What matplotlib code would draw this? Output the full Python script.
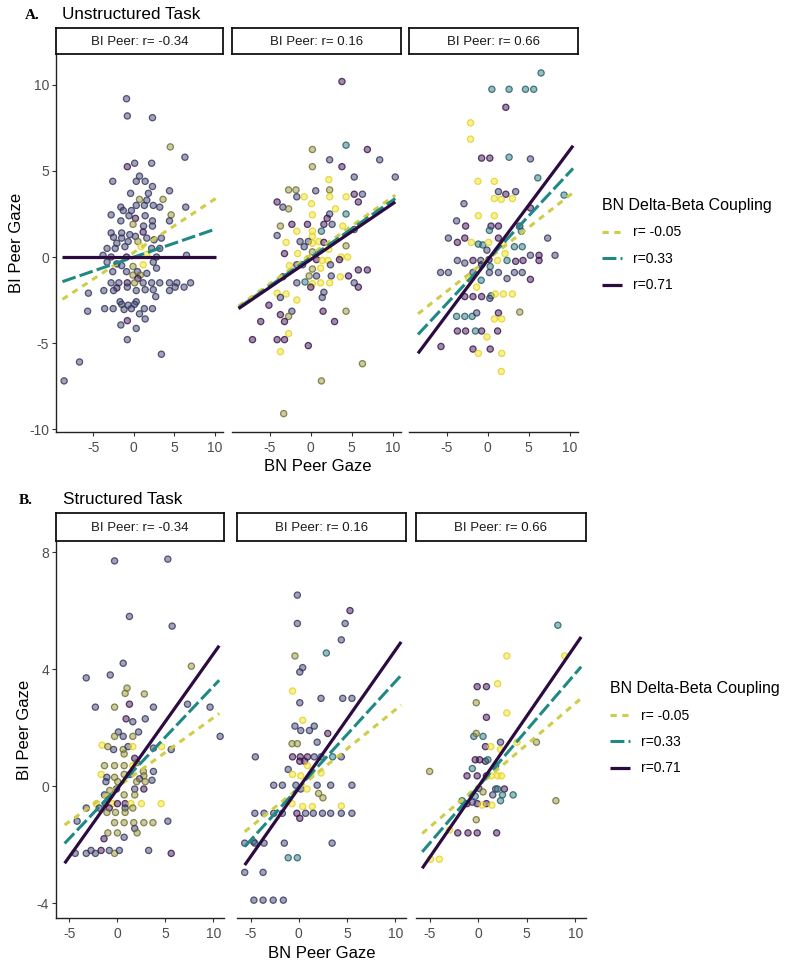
import matplotlib
matplotlib.use('Agg')
import matplotlib.pyplot as plt
from matplotlib.colors import to_rgba

plt.rcParams['font.family'] = ['Liberation Sans', 'DejaVu Sans']
plt.rcParams['lines.scale_dashes'] = False
plt.rcParams['axes.unicode_minus'] = False

# ---------------- data ----------------
facet_labels = ['BI Peer: r= -0.34', 'BI Peer: r= 0.16', 'BI Peer: r= 0.66']
legend_title = 'BN Delta-Beta Coupling'
legend_labels = ['r= -0.05', 'r=0.33', 'r=0.71']
panel_titles = [('A.', 'Unstructured Task'), ('B.', 'Structured Task')]
x_label = 'BN Peer Gaze'
y_label = 'BI Peer Gaze'

# point colour groups (coupling level, low -> high)
palette = {'p': '#46185F', 'b': '#45477A', 't': '#2E7E86', 'o': '#9A9840', 'y': '#F5E326'}

A1 = [(-0.9,9.2,'b'),(-0.8,8.2,'b'),(2.3,8.1,'b'),(4.5,6.4,'o'),(6.3,5.8,'b'),(-0.8,5.25,'p'),(0.1,5.45,'b'),
      (2.2,5.45,'b'),(-2.6,4.4,'b'),(0.7,4.7,'b'),(0.3,4.4,'b'),(1.4,4.4,'b'),(2.3,4.1,'b'),(-0.4,3.7,'b'),
      (1.8,3.7,'b'),(4.4,3.85,'b'),(0.7,3.35,'o'),(3.6,3.35,'o'),(1.6,3.3,'b'),(0.3,3.0,'b'),(1.3,3.0,'b'),
      (2.4,3.0,'b'),(3.2,2.9,'b'),(6.4,2.9,'b'),(-1.6,2.9,'b'),(-1.3,2.7,'b'),(-0.3,2.7,'b'),(-2.8,2.45,'b'),
      (-0.6,2.4,'b'),(1.4,2.4,'b'),(4.6,2.45,'o'),(0.2,2.25,'p'),(-1.6,2.1,'b'),(2.3,2.1,'b'),(4.4,2.1,'b'),
      (2.3,1.8,'b'),(1.2,1.8,'b'),(-0.1,1.9,'o'),(-2.8,1.4,'b'),(-1.5,1.4,'b'),(-0.5,1.3,'b'),(1.15,1.45,'p'),
      (0.2,1.2,'b'),(-2.5,1.15,'b'),(-1.5,1.1,'b'),(1.6,1.1,'b'),(3.4,1.1,'b'),(2.5,1.0,'b'),(-2.1,0.8,'b'),
      (-0.7,0.9,'b'),(0.5,0.9,'o'),(-3.3,0.5,'b'),(-2.3,0.5,'b'),(-1.1,0.6,'b'),(0.9,0.6,'y'),(2.2,0.5,'b'),
      (3.2,0.5,'b'),(-3.8,0.1,'b'),(6.5,0.1,'b'),(-2.8,0.0,'b'),(-0.9,0.0,'p'),(1.6,0.15,'y'),(2.8,0.0,'b'),
      (-3.3,-0.3,'b'),(-2.1,-0.4,'b'),(-1.5,-0.5,'b'),(-0.1,-0.55,'o'),(1.15,-0.45,'y'),(2.4,-0.3,'b'),
      (-2.6,-0.85,'b'),(-0.9,-0.85,'b'),(0.45,-0.85,'b'),(1.6,-0.95,'b'),(2.8,-0.65,'b'),(-0.1,-1.05,'o'),
      (0.8,-1.05,'o'),(0.5,-1.25,'p'),(-2.8,-1.5,'b'),(-1.85,-1.5,'b'),(-0.8,-1.5,'p'),(0.1,-1.5,'o'),
      (1.15,-1.5,'b'),(2.2,-1.5,'b'),(3.2,-1.5,'b'),(4.4,-1.5,'b'),(5.3,-1.5,'b'),(6.2,-1.75,'b'),(7.0,-1.5,'b'),
      (5.1,-1.75,'b'),(-2.1,-1.8,'p'),(-0.8,-1.75,'b'),(0.3,-1.95,'b'),(1.4,-1.9,'b'),(2.4,-1.9,'b'),
      (-3.7,-1.95,'b'),(-2.5,-1.95,'b'),(4.4,-1.95,'b'),(-5.6,-2.1,'b'),(2.7,-2.3,'b'),(-1.7,-2.6,'b'),
      (-1.5,-2.75,'b'),(0.3,-2.6,'b'),(0.1,-2.75,'b'),(-0.7,-2.8,'b'),(-1.2,-3.05,'b'),(-0.3,-3.0,'b'),
      (-3.6,-3.0,'b'),(-2.55,-3.0,'b'),(1.3,-3.0,'b'),(2.3,-3.0,'b'),(-5.7,-3.15,'b'),(0.7,-3.3,'b'),
      (1.4,-3.6,'b'),(-0.8,-3.7,'p'),(-1.6,-3.95,'b'),(0.3,-4.15,'b'),(-0.8,-4.8,'b'),(3.4,-5.65,'b'),
      (-6.7,-6.1,'b'),(-8.6,-7.2,'b')]

A2 = [(3.8,10.2,'p'),(0.2,6.25,'o'),(4.3,6.5,'t'),(6.9,6.25,'p'),(8.4,5.65,'b'),(2.3,5.65,'b'),(0.2,5.25,'o'),
      (3.8,5.25,'p'),(5.3,4.65,'b'),(10.3,4.65,'b'),(2.2,4.5,'y'),(-2.7,3.9,'o'),(-1.8,3.9,'o'),(-1.7,3.5,'b'),
      (-0.8,3.5,'y'),(0.6,3.85,'b'),(2.3,3.9,'o'),(2.3,3.5,'y'),(4.3,3.5,'y'),(5.3,3.65,'p'),(6.3,3.65,'b'),
      (5.8,3.2,'p'),(-4.1,3.2,'p'),(-3.4,2.9,'b'),(-2.7,2.8,'o'),(0.1,3.1,'y'),(0.2,2.45,'y'),(2.3,2.5,'b'),
      (3.0,2.8,'y'),(4.3,2.5,'t'),(2.0,2.25,'p'),(-3.7,1.8,'o'),(-2.3,1.9,'p'),(-0.4,1.9,'p'),(1.6,1.9,'p'),
      (2.6,1.9,'b'),(3.9,1.8,'y'),(5.3,1.6,'b'),(-1.7,1.5,'y'),(0.2,1.5,'y'),(1.3,1.5,'t'),(-4.1,1.25,'b'),
      (0.2,1.2,'y'),(-3.0,0.85,'y'),(-1.3,0.9,'b'),(-0.3,0.9,'b'),(1.0,0.9,'y'),(1.6,0.85,'p'),(-0.8,0.6,'b'),
      (0.2,0.8,'y'),(4.3,0.65,'o'),(-3.2,0.2,'p'),(-1.6,0.2,'y'),(0.2,0.3,'o'),(2.2,0.45,'y'),(3.7,0.0,'y'),
      (4.5,0.0,'y'),(-0.4,-0.1,'y'),(0.7,-0.15,'p'),(1.4,-0.2,'y'),(2.1,-0.2,'y'),(3.5,-0.15,'p'),
      (-2.6,-0.5,'y'),(-1.7,-0.45,'b'),(-1.0,-0.45,'b'),(0.2,-0.7,'o'),(2.4,-0.45,'b'),(1.2,-0.65,'y'),
      (5.8,-0.75,'p'),(6.9,-0.75,'p'),(-3.4,-1.15,'b'),(-0.2,-1.1,'o'),(0.7,-1.1,'b'),(2.5,-1.1,'b'),
      (3.6,-1.15,'y'),(4.6,-1.1,'p'),(-1.7,-1.5,'b'),(-0.7,-1.45,'t'),(0.2,-1.55,'y'),(1.2,-1.5,'y'),
      (2.3,-1.5,'y'),(5.3,-1.5,'b'),(0.0,-1.75,'p'),(5.8,-1.75,'p'),(1.6,-2.05,'b'),(-4.1,-2.1,'y'),
      (-3.0,-2.15,'y'),(-3.7,-2.35,'b'),(1.4,-2.35,'b'),(-1.7,-2.5,'y'),(-5.1,-2.8,'p'),(1.5,-3.15,'p'),
      (4.3,-3.15,'o'),(-2.3,-3.15,'b'),(-3.7,-3.35,'p'),(-2.7,-3.45,'o'),(-6.1,-3.75,'p'),(-3.2,-3.75,'p'),
      (2.9,-3.75,'p'),(-2.7,-4.45,'y'),(-7.1,-4.8,'p'),(-4.1,-4.8,'p'),(-3.2,-4.8,'p'),(-0.3,-5.15,'p'),
      (-3.7,-5.5,'y'),(6.3,-6.2,'o'),(1.3,-7.2,'o'),(-3.3,-9.1,'o')]

A3 = [(6.5,10.7,'t'),(0.5,9.75,'t'),(2.6,9.75,'t'),(4.6,9.75,'t'),(5.6,9.75,'t'),(2.2,8.7,'p'),(-2.1,7.8,'y'),
      (-2.1,6.85,'y'),(-0.75,5.75,'p'),(0.25,5.75,'p'),(2.6,5.8,'t'),(5.2,5.7,'b'),(6.1,4.6,'t'),(-1.2,4.4,'y'),
      (0.8,4.4,'y'),(1.3,3.8,'b'),(2.2,3.65,'p'),(3.4,3.8,'b'),(0.8,3.4,'y'),(1.65,3.35,'y'),(3.0,3.4,'y'),
      (9.3,3.6,'t'),(-2.9,3.1,'b'),(5.2,2.85,'p'),(-1.15,2.4,'y'),(0.8,2.4,'y'),(-3.8,2.1,'b'),(-2.7,1.8,'p'),
      (0.4,1.8,'p'),(1.3,1.8,'p'),(0.2,1.55,'t'),(3.9,1.8,'b'),(4.1,1.5,'t'),(-4.8,1.1,'b'),(-2.8,1.1,'p'),
      (-3.7,0.85,'p'),(1.3,1.1,'p'),(7.3,1.1,'b'),(-2.0,0.85,'y'),(-1.15,0.75,'t'),(-0.6,0.7,'t'),(0.1,0.85,'y'),
      (1.9,0.8,'y'),(3.25,0.6,'t'),(4.2,0.6,'t'),(-0.1,0.4,'b'),(2.1,0.2,'y'),(5.2,0.1,'b'),(6.25,0.1,'p'),
      (8.2,0.1,'b'),(-3.7,-0.2,'b'),(-2.8,-0.35,'b'),(-1.8,-0.2,'p'),(-0.85,-0.2,'b'),(0.15,-0.15,'p'),
      (1.2,-0.2,'y'),(2.35,-0.2,'t'),(3.4,-0.25,'p'),(4.3,-0.2,'p'),(6.25,-0.2,'p'),(-0.75,-0.45,'p'),
      (0.3,-0.55,'t'),(-5.75,-0.9,'b'),(-4.8,-0.9,'b'),(-1.8,-0.9,'b'),(0.2,-0.9,'b'),(1.3,-0.9,'b'),
      (3.25,-0.9,'b'),(4.2,-0.9,'b'),(2.35,-1.25,'b'),(5.2,-1.3,'p'),(-2.3,-1.25,'y'),(-0.8,-1.35,'t'),
      (-1.36,-1.75,'y'),(-2.8,-2.3,'p'),(-1.8,-2.3,'p'),(-0.75,-2.3,'p'),(0.4,-2.25,'t'),(0.25,-2.4,'b'),
      (0.9,-2.15,'y'),(1.9,-2.15,'y'),(3.0,-2.15,'y'),(-3.8,-3.45,'t'),(-2.8,-3.45,'t'),(-1.9,-3.45,'t'),
      (-1.35,-3.25,'b'),(1.3,-3.25,'p'),(0.8,-3.6,'y'),(1.7,-3.6,'y'),(3.9,-3.2,'o'),(-3.7,-4.3,'p'),
      (-2.7,-4.3,'p'),(-1.5,-4.3,'t'),(-0.75,-4.3,'p'),(1.2,-4.3,'p'),(-0.1,-4.65,'y'),(-5.7,-5.2,'p'),
      (-1.8,-5.35,'p'),(0.3,-5.35,'p'),(-1.15,-5.6,'y'),(1.7,-5.6,'y'),(1.65,-6.65,'y')]

B1 = [(-0.3,7.7,'b'),(5.25,7.76,'b'),(1.25,5.8,'b'),(5.7,5.47,'b'),(0.6,4.2,'b'),(-0.75,3.8,'b'),(-3.25,3.7,'b'),
      (7.7,4.1,'o'),(1.0,3.35,'o'),(2.8,3.15,'o'),(0.8,3.17,'o'),(-2.3,2.7,'b'),(-0.3,2.7,'o'),(1.25,2.8,'p'),
      (3.75,2.7,'b'),(7.3,2.8,'b'),(9.65,2.7,'b'),(10.7,1.7,'b'),(0.9,2.3,'p'),(1.6,2.2,'b'),(2.9,2.3,'b'),
      (0.1,1.85,'b'),(0.6,1.7,'b'),(-0.3,1.7,'o'),(2.2,1.85,'b'),(1.6,1.7,'o'),(-1.6,1.4,'y'),(-1.0,1.35,'o'),
      (-0.4,1.25,'b'),(0.6,1.25,'o'),(1.1,1.35,'b'),(1.6,1.35,'y'),(3.75,1.3,'b'),(4.6,1.35,'y'),(5.6,1.25,'b'),
      (0.7,1.1,'o'),(1.8,0.95,'p'),(2.0,0.8,'o'),(-1.35,0.7,'o'),(-0.3,0.7,'o'),(0.7,0.7,'o'),(1.6,0.7,'y'),
      (3.75,0.5,'b'),(2.7,0.5,'o'),(-1.7,0.4,'y'),(-1.1,0.3,'b'),(-0.3,0.3,'o'),(0.7,0.4,'o'),(1.3,0.4,'b'),
      (2.75,0.35,'o'),(2.3,0.25,'b'),(3.6,0.2,'b'),(-1.2,0.15,'b'),(0.03,0.15,'o'),(2.0,0.15,'o'),(2.9,0.15,'o'),
      (-0.8,-0.15,'o'),(-0.1,-0.1,'p'),(1.8,-0.1,'b'),(2.75,-0.1,'p'),(-1.35,-0.3,'b'),(0.7,-0.3,'o'),
      (1.8,-0.3,'o'),(-2.2,-0.6,'y'),(-1.25,-0.6,'b'),(-0.5,-0.6,'y'),(0.0,-0.6,'p'),(0.8,-0.6,'p'),
      (1.4,-0.6,'y'),(2.5,-0.6,'y'),(4.55,-0.6,'y'),(-3.25,-0.75,'b'),(-1.9,-0.75,'b'),(-0.85,-0.75,'p'),
      (0.8,-0.75,'b'),(1.6,-0.75,'o'),(-1.1,-0.9,'o'),(-0.2,-0.9,'o'),(0.8,-0.9,'o'),(-4.2,-1.2,'b'),
      (-0.3,-1.25,'o'),(0.7,-1.25,'o'),(1.7,-1.25,'o'),(2.75,-1.25,'o'),(3.7,-1.25,'o'),(5.25,-1.2,'b'),
      (1.8,-1.45,'b'),(-1.0,-1.6,'o'),(0.0,-1.6,'o'),(2.05,-1.6,'o'),(-1.4,-1.8,'p'),(0.7,-1.75,'b'),
      (-4.4,-2.3,'b'),(-3.25,-2.3,'b'),(-2.3,-2.3,'b'),(-2.75,-2.2,'b'),(-1.7,-2.2,'p'),(-0.85,-2.2,'b'),
      (-0.3,-2.3,'o'),(0.2,-2.2,'b'),(3.25,-2.2,'b'),(5.6,-2.3,'p')]

B2 = [(-0.15,6.53,'b'),(5.3,6.0,'p'),(-0.15,5.56,'b'),(4.8,5.56,'b'),(4.4,5.0,'b'),(-0.4,4.45,'o'),(2.85,4.55,'t'),
      (0.4,4.05,'b'),(0.1,3.9,'b'),(-0.65,3.25,'y'),(2.3,3.0,'b'),(4.55,3.0,'b'),(5.5,3.0,'b'),(0.1,2.85,'b'),
      (0.4,2.25,'y'),(-0.4,2.05,'b'),(0.2,1.9,'b'),(1.1,1.9,'b'),(1.6,2.05,'b'),(3.0,1.8,'p'),(-0.7,1.45,'o'),
      (-0.15,1.45,'o'),(1.9,1.5,'b'),(-4.5,1.0,'b'),(-0.65,1.0,'p'),(0.15,1.0,'p'),(0.9,1.0,'p'),(1.6,1.0,'b'),
      (2.3,1.0,'t'),(3.5,1.0,'t'),(4.4,1.0,'b'),(0.1,0.85,'p'),(0.6,0.85,'p'),(0.9,0.7,'y'),(-1.1,0.57,'b'),
      (-0.65,0.4,'y'),(0.2,0.35,'y'),(1.25,0.4,'y'),(2.3,0.45,'y'),(-2.6,0.03,'b'),(-1.7,0.03,'b'),
      (-0.3,0.03,'b'),(0.2,-0.1,'b'),(0.85,-0.1,'y'),(1.9,0.03,'b'),(3.3,0.03,'b'),(5.5,0.03,'b'),
      (2.05,-0.25,'o'),(2.5,-0.4,'o'),(-0.7,-0.6,'y'),(0.4,-0.7,'y'),(1.4,-0.7,'y'),(4.4,-0.68,'y'),
      (-4.55,-0.93,'b'),(-3.6,-0.93,'b'),(-2.6,-0.93,'b'),(-1.7,-0.93,'b'),(-0.2,-0.93,'p'),(0.7,-0.93,'b'),
      (1.5,-0.93,'b'),(2.45,-0.93,'b'),(3.3,-0.93,'b'),(4.4,-0.93,'b'),(5.5,-0.93,'b'),(0.1,-1.1,'p'),
      (-5.6,-1.95,'b'),(-4.7,-1.9,'t'),(-4.55,-1.95,'b'),(-3.6,-1.95,'b'),(-1.5,-1.95,'b'),(3.45,-1.95,'b'),
      (-1.1,-2.45,'t'),(-0.15,-2.45,'t'),(-5.6,-2.95,'b'),(-3.7,-2.95,'b'),(-4.65,-3.9,'b'),(-3.7,-3.9,'b'),
      (-2.65,-3.9,'b'),(-1.6,-3.9,'b')]

B3 = [(8.2,5.5,'t'),(2.95,4.45,'y'),(8.9,4.45,'y'),(2.0,3.5,'y'),(-0.1,3.4,'p'),(0.85,3.4,'p'),(-0.2,2.85,'o'),
      (0.85,2.35,'p'),(2.95,2.5,'y'),(-0.45,1.7,'t'),(-0.2,1.8,'o'),(0.5,1.7,'t'),(2.3,1.5,'b'),(4.0,1.5,'y'),
      (6.0,1.5,'o'),(0.75,1.35,'p'),(1.3,1.35,'y'),(2.3,1.25,'y'),(-0.3,0.9,'p'),(0.15,0.9,'p'),(0.75,0.85,'p'),
      (1.0,0.9,'t'),(-0.6,0.6,'t'),(1.8,0.7,'t'),(-5.0,0.5,'o'),(-1.15,0.35,'p'),(-0.1,0.35,'p'),(0.85,0.35,'p'),
      (1.35,0.35,'y'),(2.0,0.35,'y'),(2.4,0.35,'y'),(0.07,-0.08,'b'),(0.5,-0.2,'o'),(1.8,-0.1,'b'),
      (2.7,-0.1,'p'),(2.0,-0.1,'t'),(2.5,-0.3,'t'),(3.6,-0.3,'t'),(1.5,-0.3,'b'),(-0.3,-0.35,'t'),
      (-1.65,-0.5,'t'),(2.3,-0.5,'t'),(8.0,-0.5,'o'),(-1.15,-0.6,'p'),(-0.1,-0.6,'p'),(0.85,-0.6,'p'),
      (0.4,-0.65,'y'),(1.4,-0.65,'y'),(-0.6,-0.55,'b'),(-0.2,-1.15,'o'),(-2.1,-1.6,'p'),(-1.05,-1.6,'p'),
      (-0.1,-1.6,'p'),(1.9,-1.6,'p'),(-2.95,-1.5,'y'),(-4.9,-2.5,'y'),(-4.0,-2.5,'y')]

# fitted lines per facet: (x_start, y_start, x_end, y_end) for r=-0.05, r=0.33, r=0.71
A_lines = [[(-8.8, -2.46, 10.1, 3.40), (-8.8, -1.43, 10.1, 1.63), (-8.8, 0.00, 10.1, 0.00)],
           [(-8.8, -2.85, 10.3, 3.60), (-8.8, -2.95, 10.3, 3.40), (-8.8, -3.00, 10.3, 3.20)],
           [(-8.5, -3.30, 10.4, 3.74), (-8.5, -4.50, 10.4, 5.15), (-8.5, -5.60, 10.4, 6.47)]]
B_lines = [[(-5.5, -1.33, 10.6, 2.48), (-5.5, -1.96, 10.6, 3.62), (-5.5, -2.64, 10.6, 4.80)],
           [(-5.6, -1.56, 10.6, 2.77), (-5.6, -2.07, 10.6, 3.79), (-5.6, -2.70, 10.6, 4.93)],
           [(-5.76, -1.62, 10.6, 3.00), (-5.76, -2.25, 10.6, 4.08), (-5.76, -2.81, 10.6, 5.10)]]

A_xticks = [-5, 0, 5, 10]
A_yticks = [-10, -5, 0, 5, 10]
B_xticks = [-5, 0, 5, 10]
B_yticks = [-4, 0, 4, 8]

# ---------------- style ----------------
W, H = 800, 964
fig = plt.figure(figsize=(W / 100, H / 100), dpi=100)

line_colors = ['#CFCD48', '#1F8A84', '#2C0B40']
line_styles = [(0, (4.5, 4.0)), (0, (10.0, 3.0)), '-']
line_widths = [2.2, 2.2, 2.3]

def fx(px):
    return px / W

def fy(py):
    return 1 - py / H

def rect(x0, y0, x1, y1):
    return [fx(x0), fy(y1), (x1 - x0) / W, (y1 - y0) / H]

def darker(c, f):
    r, g, b, _ = to_rgba(c)
    return (r * f, g * f, b * f)

def draw_panel(points_list, lines_list, facet_x, top, bottom, strip_top, xlim, ylim, xticks, yticks):
    handles = []
    for i, (pts, lines) in enumerate(zip(points_list, lines_list)):
        x0, x1 = facet_x[i]
        ax = fig.add_axes(rect(x0, top, x1, bottom))
        xs = [p[0] for p in pts]
        ys = [p[1] for p in pts]
        face = [to_rgba(palette[p[2]], 0.5) for p in pts]
        edge = [(*darker(palette[p[2]], 0.92 if p[2] == 'y' else 0.7), 0.8) for p in pts]
        ax.scatter(xs, ys, s=20, facecolors=face, edgecolors=edge, linewidths=0.9, zorder=2)
        handles = []
        for k, (a, b_, c, d) in enumerate(lines):
            ln, = ax.plot([a, c], [b_, d], color=line_colors[k], linestyle=line_styles[k],
                          linewidth=line_widths[k], solid_capstyle='butt', dash_capstyle='butt', zorder=3 + k)
            handles.append(ln)
        ax.set_xlim(*xlim)
        ax.set_ylim(*ylim)
        ax.set_xticks(xticks)
        ax.set_yticks(yticks)
        for s in ['top', 'right']:
            ax.spines[s].set_visible(False)
        ax.spines['bottom'].set_linewidth(1.0)
        ax.spines['bottom'].set_color('#222222')
        if i == 0:
            ax.spines['left'].set_linewidth(1.0)
            ax.spines['left'].set_color('#222222')
            ax.tick_params(axis='y', direction='out', length=3, width=0.8, color='#333333',
                           labelsize=10, labelcolor='#4D4D4D', pad=2)
        else:
            ax.spines['left'].set_visible(False)
            ax.tick_params(axis='y', left=False, labelleft=False)
        ax.tick_params(axis='x', direction='out', length=3, width=0.8, color='#333333',
                       labelsize=10, labelcolor='#4D4D4D', pad=3.5)
        ax.patch.set_alpha(0)
        # strip
        sax = fig.add_axes(rect(x0, strip_top, x1, top))
        sax.set_xticks([])
        sax.set_yticks([])
        for s in sax.spines.values():
            s.set_linewidth(1.3)
            s.set_color('#111111')
        sax.text(0.5, 0.48, facet_labels[i], ha='center', va='center', fontsize=9.5,
                 color='#1A1A1A', transform=sax.transAxes)
    return handles

# Panel A
hA = draw_panel([A1, A2, A3], A_lines, [(56, 223), (232, 401), (409, 578)], 54, 432, 28,
                (-9.6, 11.0), (-10.17, 11.8), A_xticks, A_yticks)
# Panel B
hB = draw_panel([B1, B2, B3], B_lines, [(56, 224), (237, 406), (416, 586)], 541, 918, 513,
                (-6.4, 11.1), (-4.51, 8.38), B_xticks, B_yticks)

# titles
fig.text(fx(25), fy(19), panel_titles[0][0], fontfamily='Liberation Serif', fontweight='bold',
         fontsize=11, va='baseline', ha='left')
fig.text(fx(62), fy(19), panel_titles[0][1], fontsize=12.3, va='baseline', ha='left')
fig.text(fx(19), fy(504), panel_titles[1][0], fontfamily='Liberation Serif', fontweight='bold',
         fontsize=11, va='baseline', ha='left')
fig.text(fx(63), fy(504), panel_titles[1][1], fontsize=12.3, va='baseline', ha='left')

# axis labels
fig.text(fx(318), fy(466), x_label, fontsize=12, ha='center', va='center')
fig.text(fx(322), fy(953), x_label, fontsize=12, ha='center', va='center')
fig.text(fx(17), fy(243), y_label, fontsize=12, ha='center', va='center', rotation=90)
fig.text(fx(25), fy(730), y_label, fontsize=12, ha='center', va='center', rotation=90)

# legends
for handles, (lx, ly) in [(hA, (602, 198)), (hB, (610, 681))]:
    leg = fig.legend(handles, legend_labels, loc='upper left', bbox_to_anchor=(fx(lx), fy(ly)),
                     frameon=False, title=legend_title, fontsize=10, title_fontsize=11.5,
                     handlelength=1.45, handletextpad=0.75, labelspacing=0.9,
                     borderpad=0, borderaxespad=0)
    leg._legend_box.align = 'left'

fig.savefig('out.png', dpi=100, facecolor='white')
